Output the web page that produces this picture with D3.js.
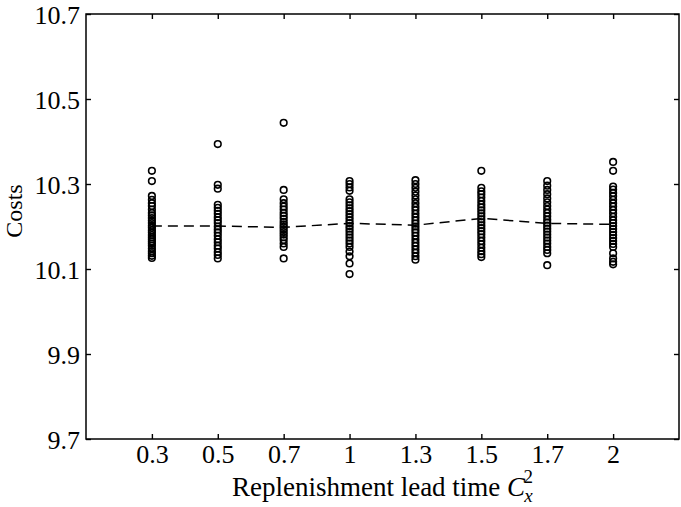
<!DOCTYPE html>
<html><head><meta charset="utf-8">
<script src="https://cdn.jsdelivr.net/npm/d3@7"></script>
<style>
body{margin:0;background:#fff;}
svg text{font-family:"Liberation Serif","Times New Roman",serif;fill:#000;}
</style></head>
<body><div id="chart"></div>
<script>
const categories = ["0.3","0.5","0.7","1","1.3","1.5","1.7","2"];
const yTicks = [9.7, 9.9, 10.1, 10.3, 10.5, 10.7];
const costs03 = [10.331,10.307,10.272,10.263,10.255,10.248,10.240,10.232,10.226,10.220,10.214,10.208,10.202,10.197,10.191,10.186,10.180,10.175,10.170,10.165,10.160,10.155,10.148,10.142,10.137,10.131,10.126];
const costs05 = [10.394,10.298,10.289,10.251,10.244,10.237,10.230,10.222,10.215,10.208,10.200,10.193,10.186,10.178,10.170,10.163,10.155,10.148,10.140,10.133,10.125];
const costs07 = [10.444,10.286,10.264,10.255,10.247,10.240,10.232,10.225,10.218,10.211,10.205,10.199,10.193,10.187,10.181,10.175,10.168,10.160,10.152,10.125];
const costs10 = [10.307,10.300,10.292,10.284,10.264,10.257,10.250,10.243,10.236,10.229,10.222,10.215,10.208,10.201,10.195,10.188,10.181,10.174,10.167,10.160,10.152,10.141,10.130,10.113,10.088];
const costs13 = [10.309,10.300,10.291,10.282,10.273,10.264,10.255,10.246,10.238,10.230,10.222,10.214,10.207,10.200,10.193,10.186,10.178,10.170,10.162,10.154,10.146,10.138,10.130,10.122];
const costs15 = [10.331,10.291,10.283,10.276,10.268,10.260,10.252,10.245,10.238,10.231,10.224,10.217,10.210,10.203,10.196,10.189,10.182,10.174,10.166,10.158,10.150,10.142,10.135,10.128];
const costs17 = [10.307,10.296,10.286,10.276,10.266,10.257,10.248,10.240,10.232,10.224,10.216,10.209,10.202,10.195,10.188,10.181,10.174,10.167,10.160,10.152,10.145,10.137,10.109];
const costs20 = [10.352,10.331,10.294,10.287,10.279,10.271,10.263,10.255,10.247,10.239,10.231,10.223,10.215,10.208,10.201,10.194,10.187,10.180,10.173,10.166,10.159,10.152,10.137,10.125,10.117,10.111];
const meanCosts = [10.201,10.201,10.198,10.2075,10.203,10.219,10.2075,10.205];

const samples = [costs03,costs05,costs07,costs10,costs13,costs15,costs17,costs20];

const W = 681, H = 507;
const m = {left:86, right:2, top:14, bottom:68};
const svg = d3.select("#chart").append("svg").attr("width",W).attr("height",H);

const x = d3.scalePoint().domain(categories).range([m.left, W-m.right]).padding(1);
const y = d3.scaleLinear().domain([9.7,10.7]).range([H-m.bottom, m.top]);

const fs = 26;
function styleAxis(g){
  g.select(".domain").remove();
  g.selectAll("line").attr("stroke","#000").attr("stroke-width",1.4);
  g.selectAll("text").style("font-size",fs+"px");
}
svg.append("g").attr("transform",`translate(0,${H-m.bottom})`)
  .call(d3.axisBottom(x).tickSize(-5).tickPadding(6)).call(styleAxis);
svg.append("g").attr("transform",`translate(0,${m.top})`)
  .call(d3.axisTop(x).tickSize(-5).tickFormat("")).call(styleAxis);
const ya = svg.append("g").attr("transform",`translate(${m.left},0)`)
  .call(d3.axisLeft(y).tickValues(yTicks).tickFormat(d3.format(".1f")).tickSize(-5).tickPadding(6)).call(styleAxis);
ya.selectAll("text").attr("dy","0.36em");
svg.append("g").attr("transform",`translate(${W-m.right},0)`)
  .call(d3.axisRight(y).tickValues(yTicks).tickSize(-5).tickFormat("")).call(styleAxis);

svg.append("rect").attr("x",m.left).attr("y",m.top)
  .attr("width",W-m.right-m.left).attr("height",H-m.bottom-m.top)
  .attr("fill","none").attr("stroke","#000").attr("stroke-width",1.5);

// points
samples.forEach((arr,i)=>{
  svg.append("g").selectAll("circle").data(arr).join("circle")
    .attr("cx",x(categories[i])).attr("cy",d=>y(d)).attr("r",3.3)
    .attr("fill","none").attr("stroke","#000").attr("stroke-width",1.6);
});

// mean dashed line
const line = d3.line().x((d,i)=>x(categories[i])).y(d=>y(d));
svg.append("path").datum(meanCosts).attr("d",line)
  .attr("fill","none").attr("stroke","#000").attr("stroke-width",1.5)
  .attr("stroke-dasharray","10,6");

// axis titles
const xt = svg.append("text").attr("x",(m.left+W-m.right)/2).attr("y",496)
  .attr("text-anchor","middle").style("font-size","27px");
xt.append("tspan").text("Replenishment lead time ");
xt.append("tspan").text("C").style("font-style","italic");
xt.append("tspan").text("x").style("font-style","italic").style("font-size","19px").attr("dy",6).attr("dx",-1);
xt.append("tspan").text("2").style("font-size","19px").attr("dy",-19).attr("dx",-9);

svg.append("text").attr("transform","translate(21.5,211) rotate(-90)")
  .attr("text-anchor","middle").style("font-size","24px").text("Costs");
</script></body></html>
